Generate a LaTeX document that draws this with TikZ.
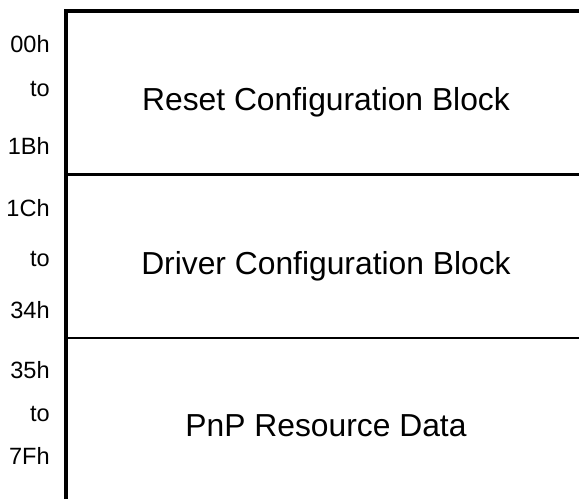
\documentclass[tikz,border=0pt]{standalone}
\usepackage{fontspec}
\setmainfont{Liberation Sans}
\tikzset{
	addr/.style={anchor=base east, inner sep=0pt, font=\fontsize{13.4}{16}\selectfont},
	blk/.style={anchor=base, inner sep=0pt, font=\fontsize{18.1}{22}\selectfont},
}
\begin{document}
\begin{tikzpicture}
		\useasboundingbox (0,0) rectangle (11.58,9.98);
		\draw [line width=2.2pt] (1.32,0) -- (1.32,9.76) -- (11.58,9.76);
		\draw [line width=1.2pt] (1.32,6.49) -- (11.58,6.49);
		\draw [line width=1.2pt] (1.32,3.22) -- (11.58,3.22);

		% address ranges
		\foreach \y/\addr/\n in {8.93/00h/a, 8.05/to/b, 6.90/1Bh/c,
				5.66/1Ch/d, 4.66/to/e, 3.61/34h/f,
				2.42/35h/g, 1.55/to/h, 0.70/7Fh/i} {
			\node [addr] (addr-\n) at (1.0,\y) {\addr};
		}

		\node [blk] (reset)  at (6.52,7.77) {Reset Configuration Block};
		\node [blk] (driver) at (6.52,4.50) {Driver Configuration Block};
		\node [blk] (pnp)    at (6.52,1.25) {PnP Resource Data};
	\end{tikzpicture}
\end{document}
